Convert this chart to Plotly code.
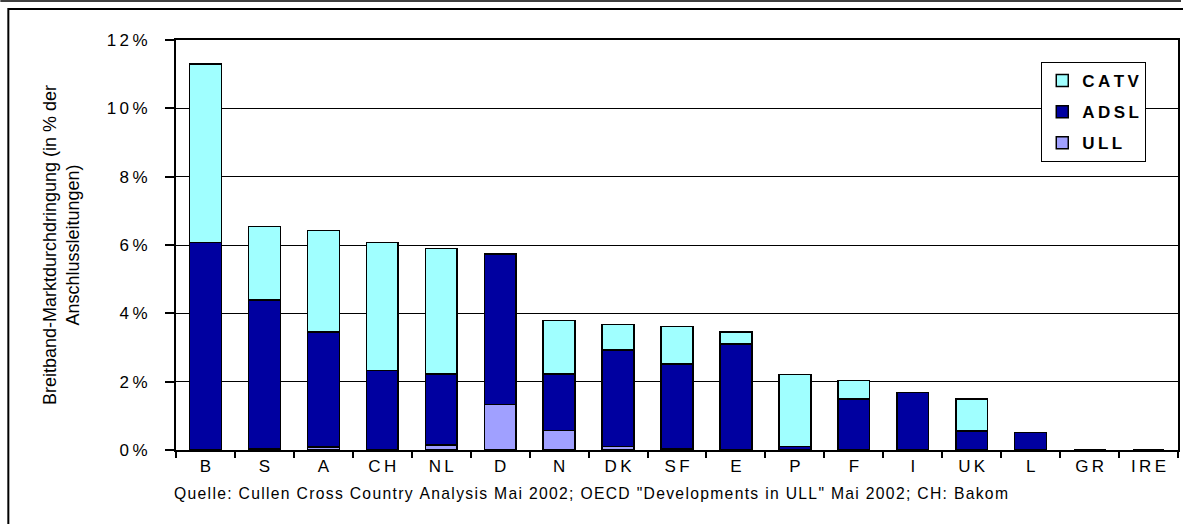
import plotly.graph_objects as go

# Breitband-Marktdurchdringung nach Technologie, in % der Anschlussleitungen
countries = ["B", "S", "A", "CH", "NL", "D", "N", "DK", "SF", "E", "P", "F", "I", "UK", "L", "GR", "IRE"]
ull = [0.00, 0.03, 0.09, 0.00, 0.15, 1.33, 0.57, 0.10, 0.03, 0.00, 0.00, 0.00, 0.02, 0.00, 0.00, 0.00, 0.00]
adsl = [6.07, 4.36, 3.36, 2.32, 2.08, 4.40, 1.66, 2.83, 2.48, 3.10, 0.10, 1.50, 1.66, 0.56, 0.51, 0.00, 0.00]
catv = [5.23, 2.15, 2.97, 3.75, 3.67, 0.00, 1.56, 0.74, 1.10, 0.35, 2.11, 0.54, 0.00, 0.94, 0.00, 0.00, 0.00]

y_ticks = [0, 2, 4, 6, 8, 10, 12]
source = 'Quelle: Cullen Cross Country Analysis Mai 2002; OECD "Developments in ULL" Mai 2002; CH: Bakom'
y_title = "Breitband-Marktdurchdringung (in % der<br>Anschlussleitungen)"

FONT = "Liberation Sans, Arial, sans-serif"


def spread(text, gap):
    """Widen the letter spacing of a label with narrow unicode spaces."""
    return gap.join(text)


W, H = 1183, 524
L, R, T, B = 176, 3, 40, 74
pw, ph = W - L - R, H - T - B


def px(x):
    return (x - L) / pw


def py(y):
    return (H - B - y) / ph


fig = go.Figure()
series = [("ULL", ull, "#A0A0FF", 3), ("ADSL", adsl, "#0000A0", 2), ("CATV", catv, "#A0FFFF", 1)]
for name, vals, color, rank in series:
    fig.add_trace(go.Bar(
        x=countries, y=vals, name=spread(name, "\u2009"),
        legendgroup=name, legendrank=rank,
        marker=dict(color=color, line=dict(color="black", width=1.5)),
    ))

fig.update_layout(
    width=W, height=H,
    margin=dict(l=L, r=R, t=T, b=B),
    barmode="stack", bargap=0.46,
    plot_bgcolor="white", paper_bgcolor="white",
    font=dict(family=FONT, color="black", size=16),
    showlegend=True,
    legend=dict(
        x=px(1043), y=py(62), xanchor="left", yanchor="top",
        bgcolor="white", bordercolor="black", borderwidth=1,
        traceorder="grouped", tracegroupgap=6,
        font=dict(family=FONT, size=17, color="black", weight="bold"),
        itemwidth=30,
    ),
)

fig.update_xaxes(
    type="category",
    tickvals=countries,
    ticktext=[spread(c, "\u2009") for c in countries],
    tickson="boundaries", ticks="outside", ticklen=6, tickwidth=1.5, tickcolor="black",
    showline=True, linecolor="black", linewidth=2, mirror=True,
    showgrid=False,
    tickfont=dict(family=FONT, size=17),
)
fig.update_yaxes(
    range=[0, 12],
    tickvals=y_ticks,
    ticktext=[spread(f"{v}%", "\u2009") for v in y_ticks],
    ticks="outside", ticklen=9, tickwidth=1.5, tickcolor="black",
    ticklabelstandoff=14,
    showline=True, linecolor="black", linewidth=2, mirror=True,
    showgrid=True, gridcolor="black", gridwidth=1.2,
    tickfont=dict(family=FONT, size=17),
    title=dict(text=y_title, font=dict(family=FONT, size=18), standoff=22),
)

# Source note below the chart
fig.add_annotation(
    text=spread(source, "\u200A"), xref="paper", yref="paper",
    x=px(W / 2), y=py(493), xanchor="center", yanchor="middle",
    showarrow=False, font=dict(family=FONT, size=15.7),
)

# Frame around the chart object and the page rule above it
fig.add_shape(type="line", xref="paper", yref="paper",
              x0=px(0), x1=px(W), y0=py(1), y1=py(1),
              line=dict(color="black", width=1.5))
fig.add_shape(type="rect", xref="paper", yref="paper",
              x0=px(8), x1=px(W + 20), y0=py(H + 20), y1=py(9),
              line=dict(color="black", width=2))

fig.write_html("out.html")
